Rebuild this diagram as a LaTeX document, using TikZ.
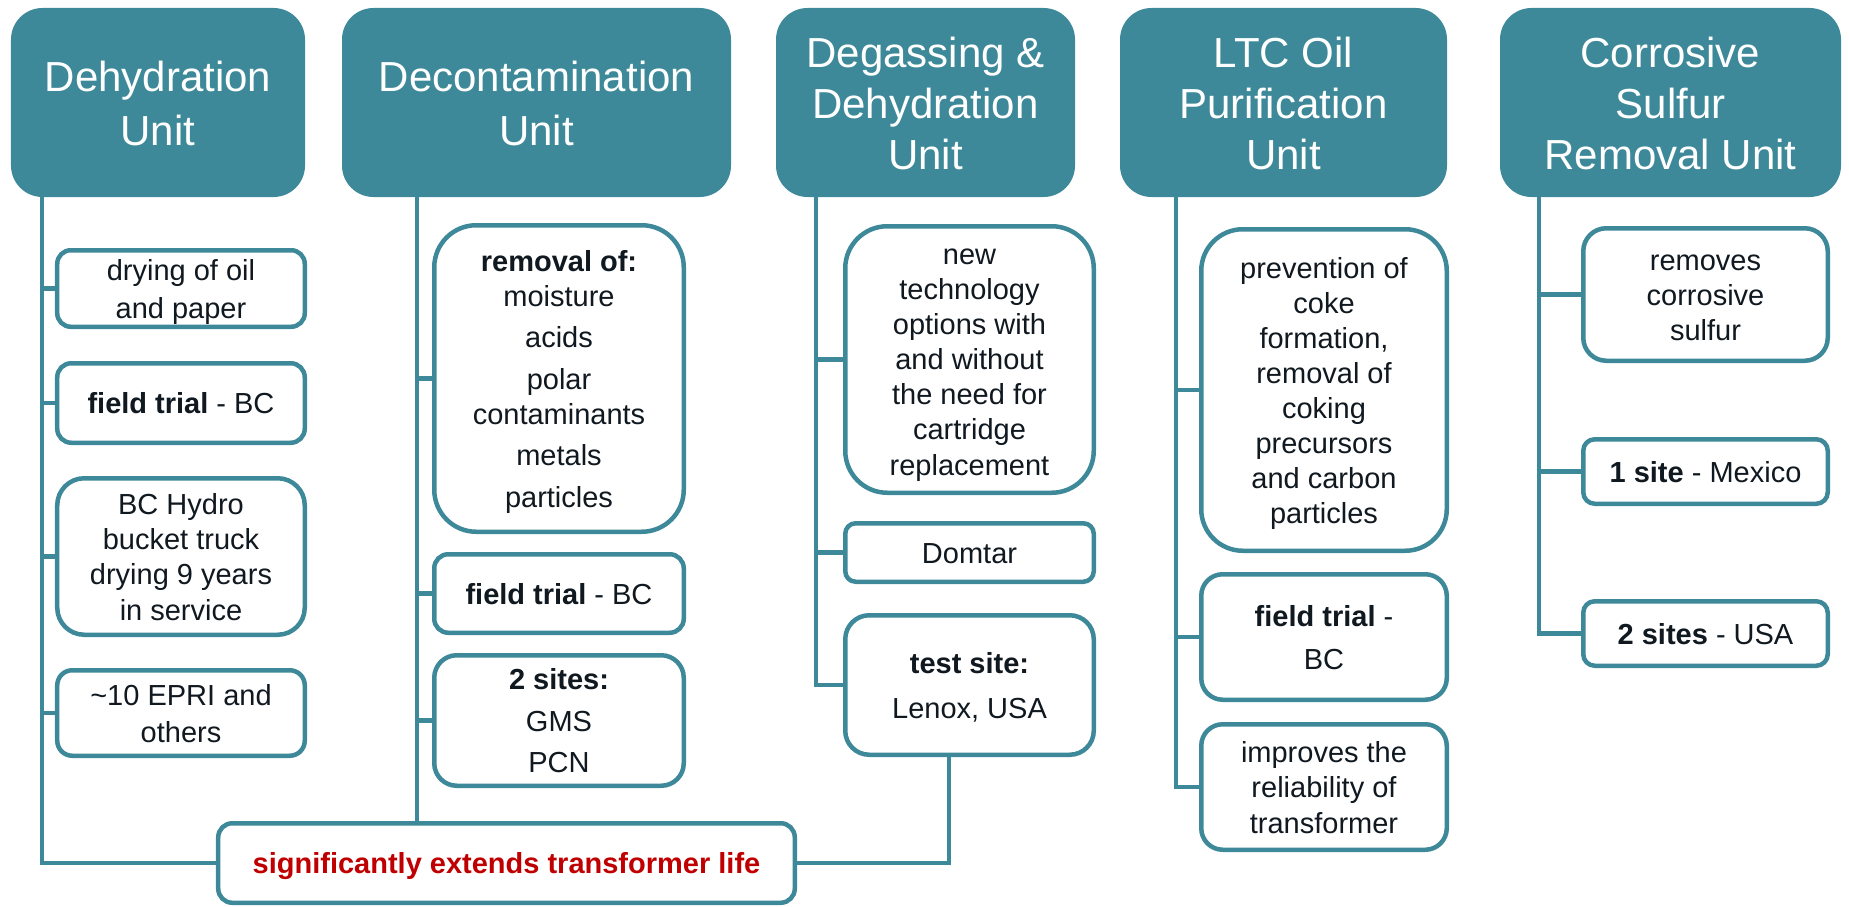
\documentclass[tikz,border=0pt]{standalone}
\usepackage{fontspec}
\setmainfont{Liberation Sans}
\definecolor{unitteal}{RGB}{62,137,153}
\definecolor{ink}{HTML}{101820}
\definecolor{lifered}{HTML}{C00000}
\newcommand\mystrut{\rule[-0.25em]{0pt}{1.25em}}
\begin{document}
\begin{tikzpicture}[x=1bp,y=-1bp,
  hdr/.style={fill=unitteal, text=white, align=center, inner sep=0pt,
    rounded corners=31.5bp, minimum height=189bp,
    font=\fontsize{42bp}{51bp}\selectfont},
  itembox/.style={draw=unitteal, line width=4.5bp, fill=white, text=ink,
    align=center, inner sep=0pt, font=\fontsize{29bp}{35bp}\selectfont},
  conn/.style={draw=unitteal, line width=4.5bp}]
\useasboundingbox (0,0) rectangle (1849,907);

% headers
\node[hdr, minimum width=294bp] (h1) at (158,102.5) {\mystrut Dehydration\\Unit\mystrut};
\node[hdr, minimum width=389bp] (h2) at (536.5,102.5) {\mystrut Decontamination\\Unit\mystrut};
\node[hdr, minimum width=299bp] (h3) at (925.5,102.5) {\mystrut Degassing \&\\Dehydration\\Unit\mystrut};
\node[hdr, minimum width=327bp] (h4) at (1283.5,102.5) {\mystrut LTC Oil\\Purification\\Unit\mystrut};
\node[hdr, minimum width=341bp] (h5) at (1670.5,102.5) {\mystrut Corrosive\\Sulfur\\Removal Unit\mystrut};

% column 1
\node[itembox, minimum width=247.5bp, minimum height=76.5bp, rounded corners=13.5bp] (b1a) at (181,288.5)
  {\mystrut drying of oil\\and paper\mystrut};
\node[itembox, minimum width=247.5bp, minimum height=79.5bp, rounded corners=14bp] (b1b) at (181,403)
  {\mystrut\textbf{field trial} - BC\mystrut};
\node[itembox, minimum width=247.5bp, minimum height=156.5bp, rounded corners=27bp] (b1c) at (181,556.5)
  {\mystrut BC Hydro\\bucket truck\\drying 9 years\\in service\mystrut};
\node[itembox, minimum width=247.5bp, minimum height=85.5bp, rounded corners=15bp] (b1d) at (181,713)
  {\mystrut\textasciitilde10 EPRI and\\others\mystrut};

% column 2
\node[itembox, minimum width=249.5bp, minimum height=306.5bp, rounded corners=42bp] (b2a) at (559,378.5)
  {\mystrut\textbf{removal of:}\\moisture\\[6.5bp]acids\\[6.5bp]polar\\contaminants\\[6.5bp]metals\\[6.5bp]particles\mystrut};
\node[itembox, minimum width=249.5bp, minimum height=78.5bp, rounded corners=14bp] (b2b) at (559,593.5)
  {\mystrut\textbf{field trial} - BC\mystrut};
\node[itembox, minimum width=249.5bp, minimum height=130.5bp, rounded corners=22.5bp] (b2c) at (559,720.5)
  {\mystrut\textbf{2 sites:}\\[7bp]GMS\\[6bp]PCN\mystrut};

% column 3
\node[itembox, minimum width=248.5bp, minimum height=266.5bp, rounded corners=42bp] (b3a) at (969.5,359.5)
  {\mystrut new\\technology\\options with\\and without\\the need for\\cartridge\\replacement\mystrut};
\node[itembox, minimum width=248.5bp, minimum height=58.5bp, rounded corners=10.5bp] (b3b) at (969.5,552.5)
  {\mystrut Domtar\mystrut};
\node[itembox, minimum width=248.5bp, minimum height=139.5bp, rounded corners=24bp] (b3c) at (969.5,685)
  {\mystrut\textbf{test site:}\\[7bp]Lenox, USA\mystrut};

% column 4
\node[itembox, minimum width=245.5bp, minimum height=321.5bp, rounded corners=41.5bp] (b4a) at (1324,390)
  {\mystrut prevention of\\coke\\formation,\\removal of\\coking\\precursors\\and carbon\\particles\mystrut};
\node[itembox, minimum width=245.5bp, minimum height=125.5bp, rounded corners=21.5bp] (b4b) at (1324,637)
  {\mystrut\textbf{field trial} -\\[6bp]BC\mystrut};
\node[itembox, minimum width=245.5bp, minimum height=125.5bp, rounded corners=21.5bp] (b4c) at (1324,787)
  {\mystrut improves the\\reliability of\\transformer\mystrut};

% column 5
\node[itembox, minimum width=244.5bp, minimum height=132.5bp, rounded corners=23bp] (b5a) at (1705.5,294.5)
  {\mystrut removes\\corrosive\\sulfur\mystrut};
\node[itembox, minimum width=244.5bp, minimum height=64.5bp, rounded corners=11.5bp] (b5b) at (1705.5,471.5)
  {\mystrut\textbf{1 site} - Mexico\mystrut};
\node[itembox, minimum width=244.5bp, minimum height=64.5bp, rounded corners=11.5bp] (b5c) at (1705.5,633.5)
  {\mystrut\textbf{2 sites} - USA\mystrut};

% bottom box
\node[itembox, minimum width=576.5bp, minimum height=79.5bp, rounded corners=14bp, text=lifered] (bot) at (506.5,863)
  {\mystrut\textbf{significantly extends transformer life}\mystrut};

% column spines
\coordinate (c1) at (42,0);
\coordinate (c2) at (417,0);
\coordinate (c3) at (816,0);
\coordinate (c3b) at (949,0);
\coordinate (c4) at (1176,0);
\coordinate (c5) at (1539,0);

\draw[conn] (c1 |- h1.south) |- (bot.west);
\draw[conn] (c1 |- b1a.west) -- (b1a.west);
\draw[conn] (c1 |- b1b.west) -- (b1b.west);
\draw[conn] (c1 |- b1c.west) -- (b1c.west);
\draw[conn] (c1 |- b1d.west) -- (b1d.west);

\draw[conn] (c2 |- h2.south) -- (c2 |- bot.north);
\draw[conn] (c2 |- b2a.west) -- (b2a.west);
\draw[conn] (c2 |- b2b.west) -- (b2b.west);
\draw[conn] (c2 |- b2c.west) -- (b2c.west);

\draw[conn] (c3 |- h3.south) |- (b3c.west);
\draw[conn] (c3 |- b3a.west) -- (b3a.west);
\draw[conn] (c3 |- b3b.west) -- (b3b.west);
\draw[conn] (c3b |- b3c.south) |- (bot.east);

\draw[conn] (c4 |- h4.south) |- (b4c.west);
\draw[conn] (c4 |- b4a.west) -- (b4a.west);
\draw[conn] (c4 |- b4b.west) -- (b4b.west);

\draw[conn] (c5 |- h5.south) |- (b5c.west);
\draw[conn] (c5 |- b5a.west) -- (b5a.west);
\draw[conn] (c5 |- b5b.west) -- (b5b.west);
\end{tikzpicture}
\end{document}
